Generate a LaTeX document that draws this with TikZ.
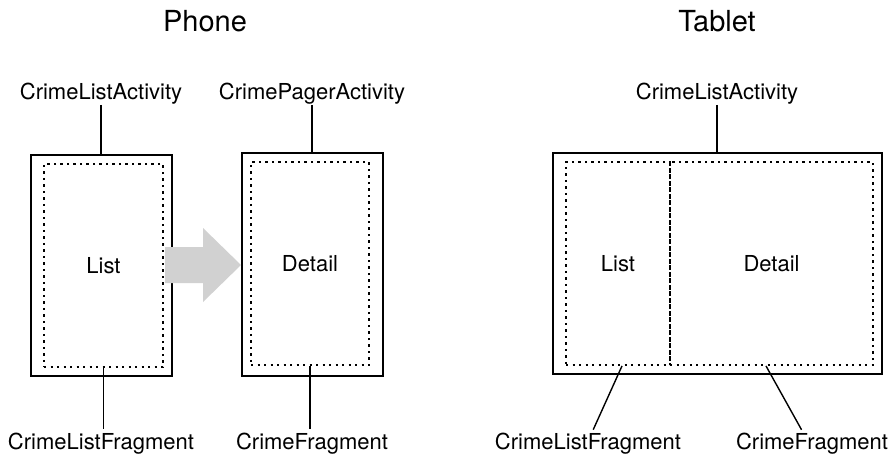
\documentclass[tikz,border=0pt]{standalone}
\usepackage{fontspec}
\setmainfont{TeX Gyre Heros}
\usetikzlibrary{positioning}

\begin{document}
\begin{tikzpicture}[x=1pt, y=1pt,
    screen/.style={rectangle, draw, line width=2pt, inner sep=0pt},
    frag/.style={rectangle, draw, line width=1.9pt, dash pattern=on 2.2pt off 4.3pt, inner sep=0pt, font=\fontsize{22}{26}\selectfont},
    lbl/.style={inner sep=0pt, anchor=base, font=\fontsize{22}{26}\selectfont},
    title/.style={inner sep=0pt, anchor=base, font=\fontsize{29}{34}\selectfont},
    link/.style={line width=1.4pt},
    push/.style={fill=black!18, draw=none}
  ]
    \useasboundingbox (0,0) rectangle (892,456);

    % Phone
    \node[title] (phone) at (205,424) {Phone};
    \node[screen, minimum width=141pt, minimum height=221pt] (listact) at (101.5,190.5) {};
    \node[frag, minimum width=119pt, minimum height=203pt] (listfrag) at (103.5,190.5) {List};
    \node[screen, minimum width=141pt, minimum height=223pt] (pageract) at (312.5,191.5) {};
    \node[frag, minimum width=118pt, minimum height=203pt] (detailfrag) at (310,192.5) {Detail};

    % Phone labels
    \node[lbl] (listactlbl) at (101,356) {CrimeListActivity};
    \node[lbl] (pageractlbl) at (312,356) {CrimePagerActivity};
    \node[lbl] (listfraglbl) at (101,7) {CrimeListFragment};
    \node[lbl] (detailfraglbl) at (312,7) {CrimeFragment};

    % Push arrow
    \fill[push] (165,173) -- (203,173) -- (203,154) -- (241,191)
      -- (203,228) -- (203,209) -- (165,209) -- cycle;

    % Tablet
    \node[title] (tablet) at (717,424) {Tablet};
    \node[screen, minimum width=329pt, minimum height=221pt] (tabact) at (717.5,192.5) {};
    \node[frag, minimum width=104pt, minimum height=203pt] (tablist) at (618,192.5) {List};
    \node[frag, minimum width=203pt, minimum height=203pt] (tabdetail) at (771.5,192.5) {Detail};

    % Tablet labels
    \node[lbl] (tabactlbl) at (717,356) {CrimeListActivity};
    \node[lbl] (tablistlbl) at (588,7) {CrimeListFragment};
    \node[lbl] (tabdetaillbl) at (812,7) {CrimeFragment};

    % Lines
    \draw[link] (listactlbl.south) -- (listactlbl.south |- listact.north);
    \draw[link] (pageractlbl.south) -- (pageractlbl.south |- pageract.north);
    \draw[link] (tabactlbl.south) -- (tabactlbl.south |- tabact.north);
    \draw[link, shorten >=3pt] (listfrag.south) -- (listfrag.south |- listfraglbl.north);
    \draw[link, shorten >=3pt] (detailfrag.south) -- (detailfrag.south |- detailfraglbl.north);
    \draw[link, shorten >=3pt] ([xshift=4pt]tablist.south) -- ([xshift=4pt]tablistlbl.north);
    \draw[link, shorten >=3pt] ([xshift=-5.5pt]tabdetail.south) -- ([xshift=-9pt]tabdetaillbl.north);
  \end{tikzpicture}
\end{document}
